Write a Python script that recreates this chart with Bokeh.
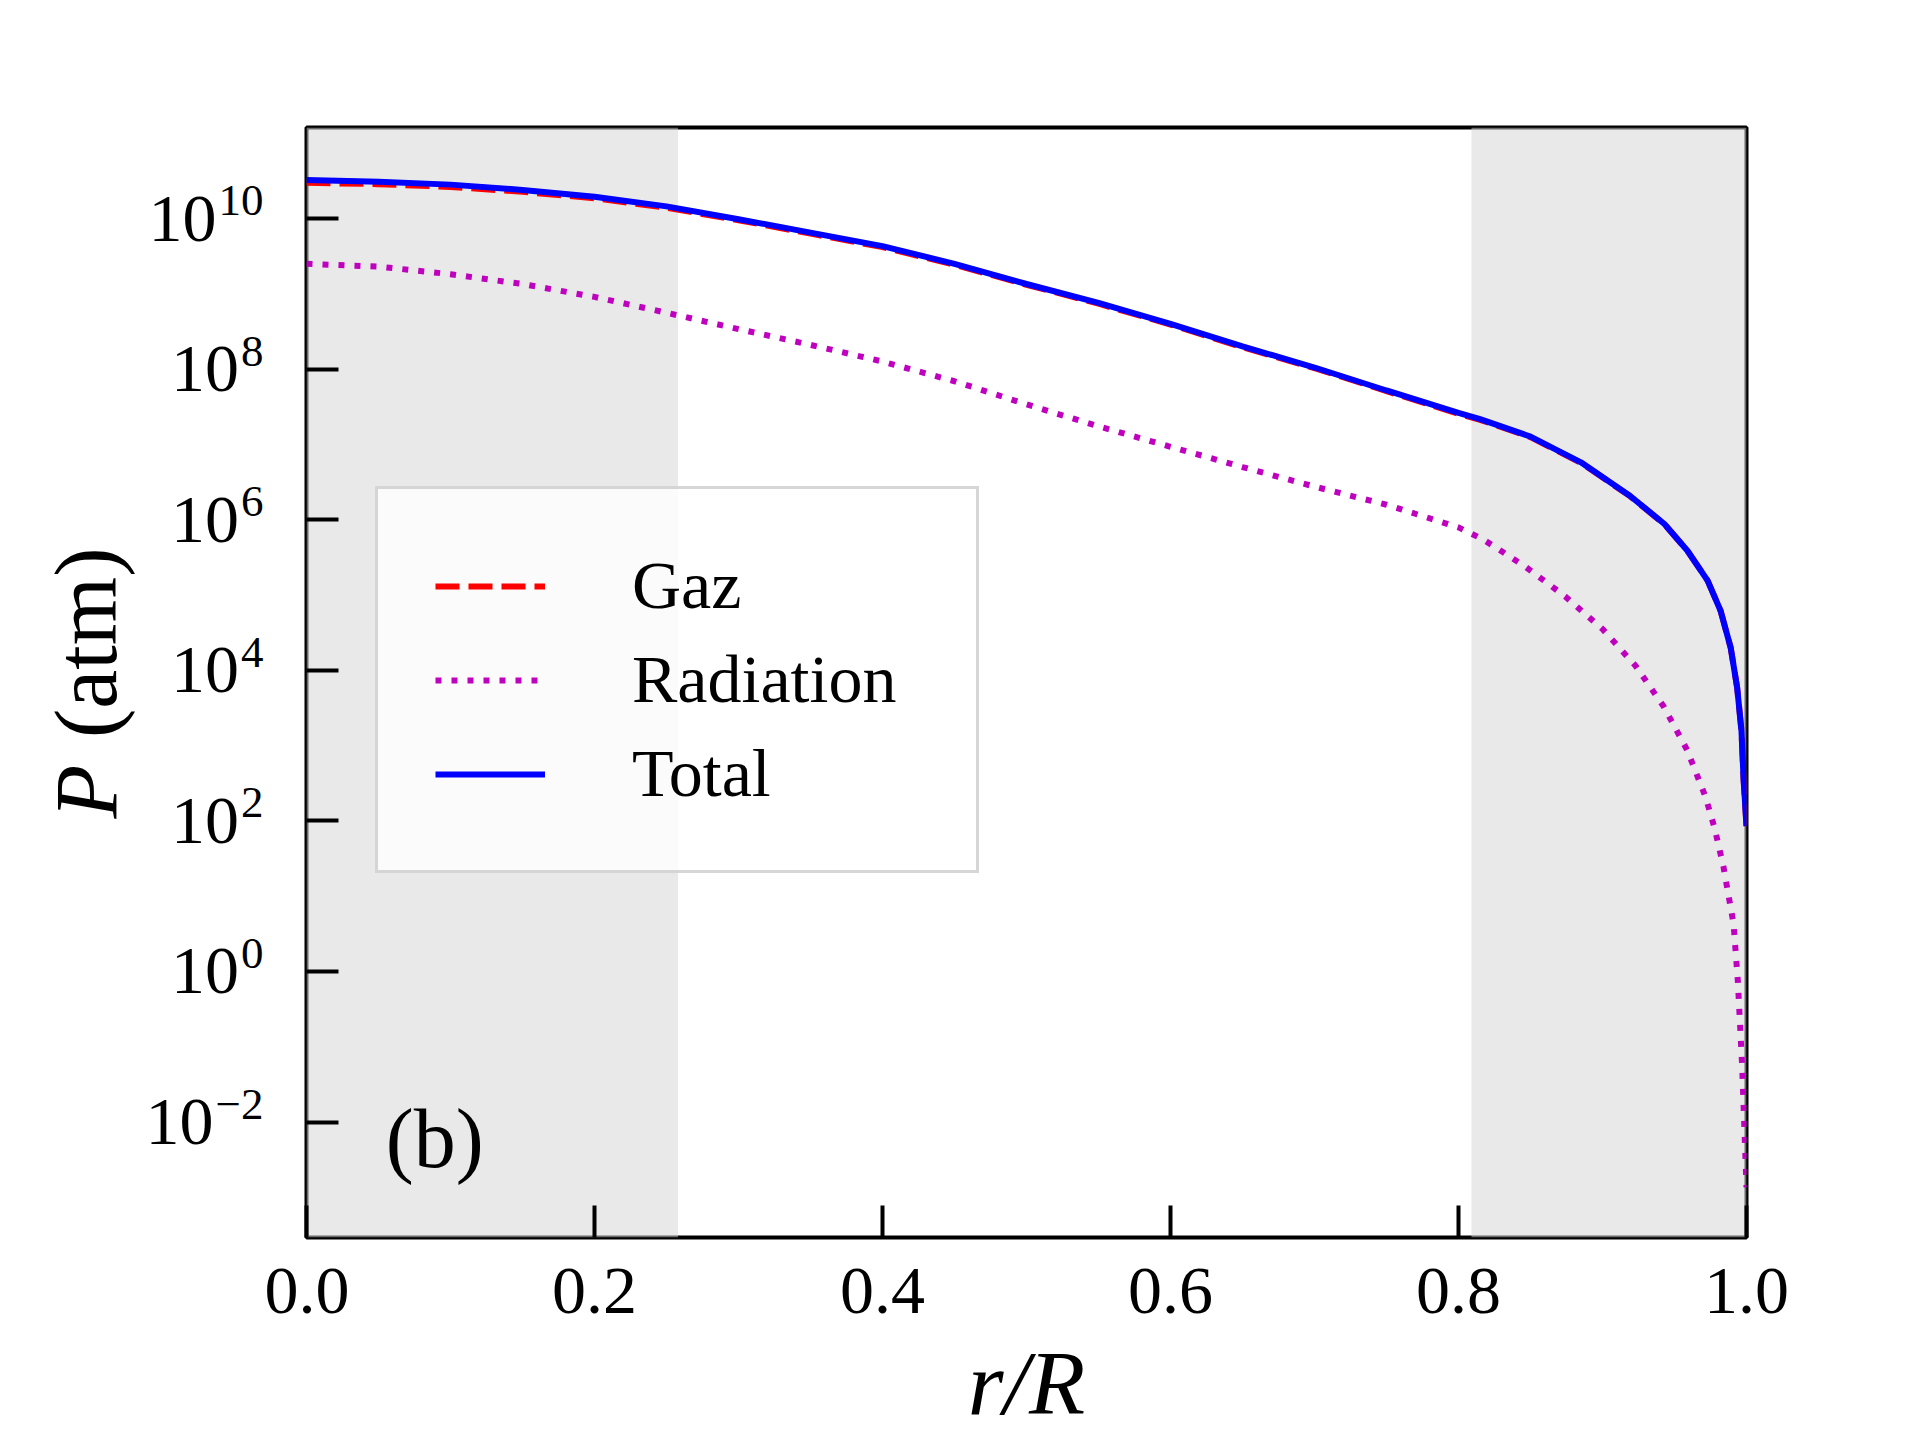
import math
from bokeh.plotting import figure
from bokeh.layouts import row
from bokeh.models import (Range1d, FixedTicker, BoxAnnotation, Legend, LegendItem,
                          Label, ColumnDataSource)
from bokeh.core.properties import value
from bokeh.embed import file_html
from bokeh.resources import INLINE

# ---------------- data ----------------
r_main = [0.0, 0.05, 0.1, 0.15, 0.2, 0.25, 0.3, 0.35, 0.4, 0.45, 0.5, 0.55, 0.6,
          0.65, 0.7, 0.75, 0.8, 0.815, 0.85, 0.885, 0.919, 0.943, 0.959, 0.973,
          0.982, 0.989, 0.9935, 0.9965, 0.998, 1.0]
p_total = [3.24e10, 3.09e10, 2.82e10, 2.40e10, 1.95e10, 1.45e10, 9.8e9, 6.5e9,
           4.3e9, 2.5e9, 1.35e9, 7.6e8, 4.0e8, 2.0e8, 1.05e8, 5.2e7, 2.63e7,
           2.17e7, 1.27e7, 5.78e6, 2.08e6, 8.77e5, 3.87e5, 1.55e5, 6.17e4,
           2.0e4, 5.9e3, 1.58e3, 3.5e2, 85.0]
p_gaz = [2.99e10, 2.86e10, 2.63e10, 2.26e10, 1.86e10, 1.39e10, 9.5e9, 6.3e9,
         4.17e9, 2.43e9, 1.32e9, 7.4e8, 3.9e8, 1.95e8, 1.03e8, 5.1e7, 2.55e7,
         2.12e7, 1.25e7, 5.7e6, 2.06e6, 8.7e5, 3.85e5, 1.55e5, 6.17e4,
         2.0e4, 5.9e3, 1.58e3, 3.5e2, 85.0]
r_rad = [0.0, 0.05, 0.1, 0.15, 0.2, 0.25, 0.3, 0.35, 0.4, 0.45, 0.5, 0.55, 0.6,
         0.65, 0.7, 0.75, 0.8, 0.8176, 0.8465, 0.8743, 0.9, 0.9229, 0.9426,
         0.9588, 0.9715, 0.978, 0.984, 0.991, 0.994, 0.997, 1.0]
p_rad = [2.5e9, 2.3e9, 1.82e9, 1.35e9, 9.1e8, 5.6e8, 3.4e8, 2.1e8, 1.26e8,
         6.9e7, 3.4e7, 1.74e7, 9.3e6, 5.0e6, 2.75e6, 1.58e6, 7.9e5, 5.4e5,
         2.37e5, 9.5e4, 3.52e4, 1.15e4, 3.27e3, 8.7e2, 2.09e2, 78.0, 24.5,
         4.3, 0.74, 0.054, 1.35e-3]

series_names = ["Gaz", "Radiation", "Total"]
shade_inner = (0.0, 0.258)
shade_outer = (0.809, 1.0)

x_ticks = [0.0, 0.2, 0.4, 0.6, 0.8, 1.0]
x_tick_labels = ["0.0", "0.2", "0.4", "0.6", "0.8", "1.0"]
y_ticks = [1e-2, 1e0, 1e2, 1e4, 1e6, 1e8, 1e10]
y_tick_base = "10"
y_tick_exponents = ["\u22122", "0", "2", "4", "6", "8", "10"]
y_label_parts = ["P", "(atm)"]

x_limits = (0.0, 1.0)
y_limits = (10 ** -3.534, 10 ** 11.209)

# ---------------- layout / style constants ----------------
FONT = "Liberation Serif"
BASE_SIZE = 68
EXP_SIZE = 45
EXP_RAISE = -18               # screen px (negative = upwards)
FRAME_W, FRAME_H = 1440, 1110
TOP, BOTTOM = 127, 203
STRIP_W = 264                 # strip holding the y tick labels / y label
MAIN_LEFT = 306 - STRIP_W     # border between strip and frame
EXP_RIGHT = STRIP_W - 1
YLAB_X = 86

# ---------------- main figure ----------------
p = figure(frame_width=FRAME_W, frame_height=FRAME_H,
           min_border_left=MAIN_LEFT, min_border_right=1920 - 306 - FRAME_W,
           min_border_top=TOP, min_border_bottom=BOTTOM,
           x_range=Range1d(*x_limits), y_range=Range1d(*y_limits),
           y_axis_type="log", output_backend="svg", toolbar_location=None)

p.background_fill_color = "white"
p.border_fill_color = "white"
p.xgrid.visible = False
p.ygrid.visible = False
p.outline_line_color = "black"
p.outline_line_width = 4
p.outline_line_alpha = 1.0

for lo, hi in (shade_inner, shade_outer):
    p.add_layout(BoxAnnotation(left=lo, right=hi, fill_color="lightgray",
                               fill_alpha=0.5, line_color=None, level="underlay"))

src_main = ColumnDataSource(dict(r=r_main, total=p_total, gaz=p_gaz))
src_rad = ColumnDataSource(dict(r=r_rad, rad=p_rad))

g_gaz = p.line("r", "gaz", source=src_main, line_color="#ff0000", line_width=6,
               line_dash="24 9")
g_rad = p.line("r", "rad", source=src_rad, line_color="#bf00bf", line_width=6,
               line_dash="6 10")
g_tot = p.line("r", "total", source=src_main, line_color="#0000ff", line_width=6)

for ax in (p.xaxis[0], p.yaxis[0]):
    ax.axis_line_color = None
    ax.major_tick_in = 32
    ax.major_tick_out = 0
    ax.major_tick_line_width = 4
    ax.major_tick_line_color = "black"
    ax.minor_tick_line_color = None
    ax.major_label_text_font = FONT
    ax.major_label_text_font_size = "68px"
    ax.major_label_text_color = "black"
    ax.axis_label_text_font = FONT
    ax.axis_label_text_color = "black"

p.xaxis[0].ticker = FixedTicker(ticks=x_ticks, minor_ticks=[])
p.xaxis[0].major_label_overrides = dict(zip(x_ticks, x_tick_labels))
p.xaxis[0].major_label_standoff = 31
p.xaxis[0].axis_label = "r/R"
p.xaxis[0].axis_label_text_font_style = "italic"
p.xaxis[0].axis_label_text_font_size = "92px"
p.xaxis[0].axis_label_standoff = 16

p.yaxis[0].ticker = FixedTicker(ticks=y_ticks, minor_ticks=[])
p.yaxis[0].major_label_overrides = {t: "" for t in y_ticks}
p.yaxis[0].major_label_text_font_size = "0px"
p.yaxis[0].major_label_standoff = 0

legend = Legend(items=[LegendItem(label=series_names[0], renderers=[g_gaz]),
                       LegendItem(label=series_names[1], renderers=[g_rad]),
                       LegendItem(label=series_names[2], renderers=[g_tot])],
                location=(69, 364))
legend.label_text_font = FONT
legend.label_text_font_size = "68px"
legend.label_text_color = "black"
legend.glyph_width = 110
legend.glyph_height = 50
legend.label_height = 50
legend.label_width = 287
legend.label_standoff = 87
legend.spacing = 15
legend.padding = 57
legend.margin = 0
legend.border_line_color = "#cccccc"
legend.border_line_width = 3
legend.border_line_alpha = 0.8
legend.background_fill_color = "white"
legend.background_fill_alpha = 0.8
p.add_layout(legend)

p.add_layout(Label(x=0.055, y=10 ** -2.22, text="(b)", text_font=FONT,
                   text_font_size="84px", text_color="black",
                   text_baseline="alphabetic", text_align="left"))

# ---------------- strip with y tick labels and y label ----------------
strip = figure(frame_width=STRIP_W, frame_height=FRAME_H,
               min_border_left=0, min_border_right=0,
               min_border_top=TOP, min_border_bottom=BOTTOM,
               x_range=Range1d(0, STRIP_W), y_range=p.y_range,
               y_axis_type="log", x_axis_location=None, y_axis_location=None,
               output_backend="svg", toolbar_location=None)
strip.outline_line_color = None
strip.background_fill_color = "white"
strip.border_fill_color = "white"
strip.grid.visible = False

char_w = {"\u2212": 0.564}
exp_w = [sum(char_w.get(c, 0.5) for c in e) * EXP_SIZE for e in y_tick_exponents]
tick_src = ColumnDataSource(dict(
    y=y_ticks,
    exp=y_tick_exponents,
    base=[y_tick_base] * len(y_ticks),
    xe=[EXP_RIGHT] * len(y_ticks),
    xb=[EXP_RIGHT - w - 2 for w in exp_w],
))
strip.text(x="xe", y="y", text="exp", source=tick_src,
           text_font=value(FONT), text_font_size=f"{EXP_SIZE}px",
           text_color="black", text_align="right", text_baseline="middle",
           y_offset=EXP_RAISE)
strip.text(x="xb", y="y", text="base", source=tick_src,
           text_font=value(FONT), text_font_size=f"{BASE_SIZE}px",
           text_color="black", text_align="right", text_baseline="middle")

strip.text(x="x", y="y", text="t",
           source=ColumnDataSource(dict(x=[YLAB_X], y=[10 ** 2.03],
                                        t=[y_label_parts[0]])),
           angle=math.pi / 2, text_font=value(FONT), text_font_size="88px",
           text_font_style="italic", text_color="black",
           text_align="left", text_baseline="middle")
strip.text(x="x", y="y", text="t",
           source=ColumnDataSource(dict(x=[YLAB_X], y=[10 ** 3.1],
                                        t=[y_label_parts[1]])),
           angle=math.pi / 2, text_font=value(FONT), text_font_size="88px",
           text_color="black", text_align="left", text_baseline="middle")

layout = row(strip, p, spacing=0)

open("out.html", "w").write(file_html(layout, INLINE))
